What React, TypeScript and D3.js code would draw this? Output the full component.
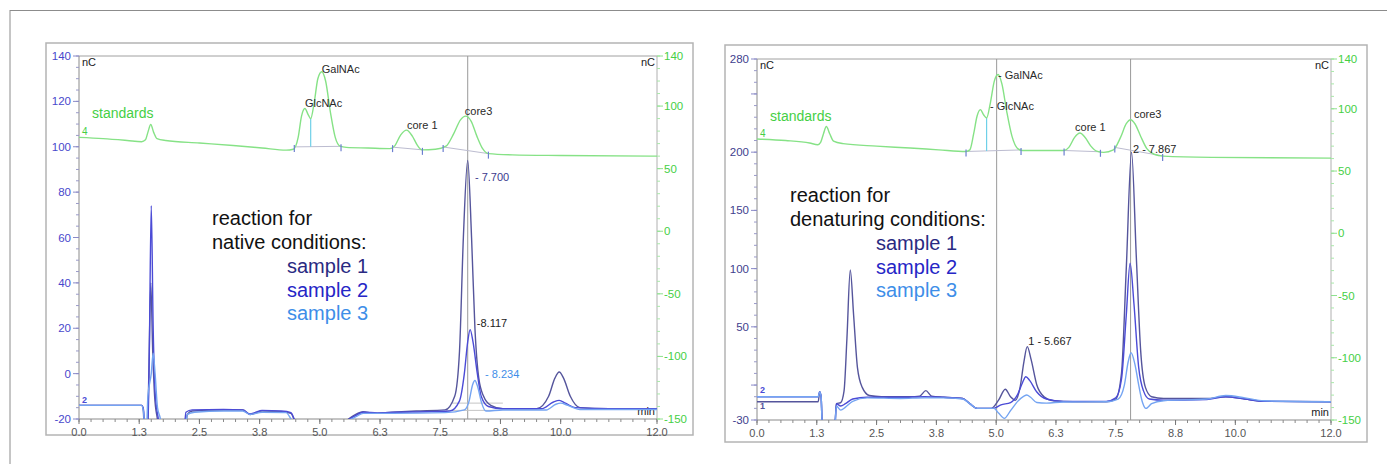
import React from "react";
import * as d3 from "d3";

// x axis (minutes), shared by both panels
const timeTicks = [0, 1.25, 2.5, 3.75, 5, 6.25, 7.5, 8.75, 10, 12];
const timeTickLabels = ["0.0", "1.3", "2.5", "3.8", "5.0", "6.3", "7.5", "8.8", "10.0", "12.0"];

// standards axis (right, green)
const stdTicks = [140, 100, 50, 0, -50, -100, -150];

// ---- native conditions (left panel) ----
const nativeLeftTicks = [140, 120, 100, 80, 60, 40, 20, 0, -20];

const nativeSample1 = [
  [0, -14], [1.3, -14], [1.33, -15], [1.36, -25], [1.42, -25], [1.45, 0], [1.49, 40], [1.53, 10], [1.57, -10],
  [1.62, -19], [1.7, -25], [2.2, -25], [2.25, -18], [2.35, -16.5], [3.0, -16], [3.4, -16], [3.55, -18], [3.65, -17.5],
  [3.8, -16.5], [4.2, -16.8], [4.4, -17.5], [4.5, -21], [5.5, -21], [5.7, -18.5], [5.9, -16.8], [6.1, -17.5],
  [6.5, -17], [7.0, -16.5], [7.6, -16], [7.8, -10], [7.9, 10], [7.98, 60], [8.07, 94], [8.15, 60], [8.22, 20],
  [8.3, -2], [8.4, -10], [8.55, -14], [8.8, -15.5], [9.5, -15.5], [9.75, -10], [9.88, -2], [9.97, 0.7], [10.06, -2],
  [10.2, -10], [10.4, -15], [11, -15.5], [12, -15.5],
];
const nativeSample2 = [
  [0, -14], [1.3, -14], [1.34, -16], [1.37, -25], [1.43, -25], [1.46, 10], [1.5, 74], [1.54, 20], [1.58, -8],
  [1.64, -19], [1.72, -25], [2.18, -25], [2.22, -17], [2.35, -16], [3.0, -15.8], [3.4, -16], [3.55, -17.8],
  [3.65, -17.2], [3.8, -16.2], [4.2, -16.5], [4.4, -17.2], [4.5, -21], [5.5, -21], [5.7, -19], [5.9, -17],
  [6.2, -17.3], [6.6, -17], [7.2, -16.8], [7.7, -16.5], [7.9, -12], [8.0, 0], [8.07, 14], [8.12, 19.4], [8.18, 14],
  [8.27, 0], [8.35, -10], [8.5, -14.5], [8.8, -15.5], [9.6, -15.5], [9.85, -12.5], [9.97, -11.8], [10.1, -13],
  [10.3, -15], [11, -15.5], [12, -15.5],
];
const nativeSample3 = [
  [0, -14], [1.3, -14], [1.34, -17], [1.37, -25], [1.4, -25], [1.43, -10], [1.5, 0], [1.54, 9], [1.58, 0],
  [1.63, -15], [1.68, -19], [1.75, -25], [2.2, -25], [2.25, -18], [2.4, -17], [3.0, -16.5], [3.4, -16.5],
  [3.55, -18], [3.8, -17], [4.3, -17.2], [4.45, -21], [5.5, -21], [5.75, -19], [5.9, -17.5], [6.5, -17.5],
  [7.6, -17.2], [8.0, -16], [8.1, -12], [8.17, -5], [8.22, -3], [8.28, -6], [8.36, -13], [8.45, -16.5], [8.8, -16],
  [9.7, -16], [9.9, -13.5], [10.0, -13], [10.15, -14], [10.4, -15.8], [12, -15.8],
];
const nativeStandards = [
  [0, 75], [0.5, 74], [1.0, 72.5], [1.3, 71.5], [1.38, 73], [1.43, 79], [1.49, 85.3], [1.55, 79], [1.62, 74],
  [1.8, 72.5], [2.5, 70.5], [3.2, 68.5], [3.8, 66.5], [4.3, 64.8], [4.45, 65.5], [4.55, 75], [4.62, 92], [4.69, 98],
  [4.76, 93], [4.81, 90], [4.88, 102], [4.96, 122], [5.04, 127.4], [5.12, 120], [5.22, 95], [5.32, 75], [5.42, 68],
  [5.55, 67], [6.0, 66.5], [6.45, 66], [6.55, 68], [6.68, 77], [6.8, 80.8], [6.92, 76], [7.02, 69], [7.12, 65],
  [7.4, 65.5], [7.62, 68], [7.78, 78], [7.92, 89], [8.03, 92], [8.14, 88], [8.26, 76], [8.38, 66], [8.5, 62],
  [9, 61], [10, 60.5], [12, 60],
];
const nativeMarkers = [4.47, 5.44, 6.51, 7.13, 7.56, 8.5];
const nativeBaselines = [[4.47, 5.44], [6.51, 7.13], [7.56, 8.5]];
const nativeDrop = [4.81];
const nativeCursor = [8.07];
const nativeStdLabels = [
  { t: 4.69, v: 102.7, text: "GlcNAc" },
  { t: 5.04, v: 129.6, text: "GalNAc" },
  { t: 6.81, v: 84.9, text: "core 1" },
  { t: 8.01, v: 96, text: "core3" },
];
const nativePeakLabels = [
  { t: 8.22, v: 86.8, text: "- 7.700", s: 0 },
  { t: 8.26, v: 22.2, text: "-8.117", s: -1 },
  { t: 8.43, v: -0.2, text: "- 8.234", s: 2 },
];
const nativeSampleBaselines = [[7.72, 8.8, -13], [7.62, 8.7, -16.2]];

// ---- denaturing conditions (right panel) ----
const denatLeftTicks = [280, 250, 200, 150, 100, 50, 0, -30];
const denatLeftLabels = ["280", "", "200", "150", "100", "50", "", "-30"];

const denatSample1 = [
  [0, -14.3], [1.28, -14.3], [1.31, -6], [1.34, -10], [1.37, -40], [1.62, -40], [1.66, -16], [1.75, -15],
  [1.82, -5], [1.88, 40], [1.95, 98.8], [2.02, 60], [2.1, 15], [2.2, -2], [2.35, -9], [2.6, -10], [3.2, -10],
  [3.4, -9.5], [3.53, -4.8], [3.65, -9.5], [3.9, -10.5], [4.3, -11.5], [4.45, -16], [4.6, -20], [4.9, -20],
  [5.05, -13], [5.19, -3.6], [5.3, -10], [5.4, -13], [5.5, -2], [5.58, 20], [5.65, 33], [5.73, 22], [5.85, 0],
  [6.0, -10], [6.2, -13.5], [6.6, -14.3], [7.3, -14.3], [7.5, -12], [7.62, 10], [7.72, 100], [7.83, 200],
  [7.93, 110], [8.02, 30], [8.12, -2], [8.25, -10], [8.5, -11.5], [9.4, -11.5], [9.8, -10], [10.2, -12],
  [10.6, -14], [12, -14.3],
];
const denatSample2 = [
  [0, -10], [1.28, -10], [1.31, -5.7], [1.34, -10], [1.37, -40], [1.62, -40], [1.66, -16], [1.75, -18],
  [1.85, -16], [2.0, -12], [2.3, -10.5], [3.0, -10.5], [3.5, -10], [3.9, -10.5], [4.3, -11.5], [4.45, -16],
  [4.6, -20], [4.95, -20], [5.1, -17], [5.3, -15], [5.45, -8], [5.55, 2], [5.62, 7.2], [5.7, 4], [5.85, -6],
  [6.05, -12], [6.4, -14], [7.3, -14], [7.5, -11], [7.62, 5], [7.72, 60], [7.8, 104.7], [7.88, 70], [7.98, 15],
  [8.08, -5], [8.2, -12], [8.5, -13], [9.4, -12.5], [9.8, -10], [10.2, -12], [10.6, -14], [12, -14.3],
];
const denatSample3 = [
  [0, -10], [1.28, -10], [1.31, -6], [1.34, -10], [1.37, -40], [1.62, -40], [1.66, -18], [1.75, -21.5],
  [1.85, -19], [2.0, -14], [2.3, -11], [3.0, -11.5], [3.5, -11], [3.9, -11], [4.3, -12], [4.45, -16], [4.6, -20],
  [4.95, -20], [5.05, -24], [5.17, -28.6], [5.3, -22], [5.45, -14], [5.58, -9.5], [5.64, -8.5], [5.72, -10.5],
  [5.85, -15], [6.05, -15.5], [6.4, -14.5], [7.3, -14.3], [7.55, -12], [7.68, 0], [7.76, 20], [7.82, 27.8],
  [7.9, 18], [7.98, 0], [8.06, -15], [8.13, -20], [8.25, -16], [8.5, -13.5], [9.4, -12], [9.8, -9], [10.2, -11],
  [10.6, -13.5], [12, -14.3],
];
const denatStandards = [
  [0, 75.7], [0.6, 74.5], [1.1, 72.5], [1.27, 71.1], [1.33, 73], [1.39, 80], [1.45, 85.8], [1.52, 80], [1.6, 74],
  [1.8, 72], [2.5, 70], [3.2, 68.5], [3.8, 67], [4.37, 65.7], [4.45, 67], [4.53, 80], [4.6, 94], [4.67, 99.3],
  [4.74, 95], [4.8, 92.6], [4.88, 105], [4.96, 122], [5.04, 127.5], [5.12, 120], [5.22, 98], [5.33, 78],
  [5.45, 68], [5.55, 66.5], [6.0, 66.5], [6.42, 66.5], [6.52, 69], [6.64, 77], [6.75, 80.5], [6.86, 77],
  [6.98, 70], [7.1, 66], [7.25, 65], [7.45, 67], [7.6, 77], [7.72, 88], [7.81, 91.2], [7.9, 88], [8.02, 78],
  [8.15, 68], [8.3, 63.5], [8.5, 62], [9.5, 61], [12, 60.4],
];
const denatMarkers = [4.37, 5.52, 6.42, 7.18, 7.48, 8.48];
const denatBaselines = [[4.37, 5.52], [6.42, 7.18], [7.48, 8.48]];
const denatDrop = [4.8];
const denatCursor = [5.01, 7.81];
const denatStdLabels = [
  { t: 4.87, v: 102.2, text: "- GlcNAc" },
  { t: 5.04, v: 127.1, text: "- GalNAc" },
  { t: 6.65, v: 85.1, text: "core 1" },
  { t: 7.88, v: 95.8, text: "core3" },
];
const denatPeakLabels = [
  { t: 7.86, v: 202.7, text: "2 - 7.867", s: -1 },
  { t: 5.67, v: 37.3, text: "1 - 5.667", s: -1 },
];

const traceColors = ["#55559c", "#4b4bd6", "#74a4f2"];
const sampleTextColors = ["#2a2a82", "#2626c6", "#3e8ee8"];
const GREEN = "#86e286";
const GREEN_TEXT = "#45cf45";
const FONT = "Liberation Sans, Arial, sans-serif";

function Panel({ cfg }) {
  const { box, x0, x1, top, bottom, leftDomain, leftTicks, leftLabels, leftMinor, leftColor, samples,
    standards, markers, baselines, drops, cursors, stdLabels, peakLabels, legend, sampleBaselines, id, traceIds } = cfg;

  const x = d3.scaleLinear().domain([0, 12]).range([x0, x1]);
  const yL = d3.scaleLinear().domain(leftDomain).range([bottom, top]);
  const yR = d3.scaleLinear().domain([-150, 140]).range([bottom, top]);

  const lineL = d3.line().x(d => x(d[0])).y(d => yL(d[1])).curve(d3.curveMonotoneX);
  const lineR = d3.line().x(d => x(d[0])).y(d => yR(d[1])).curve(d3.curveMonotoneX);
  const stdAt = (t) => {
    const i = d3.bisector(d => d[0]).left(standards, t);
    const a = standards[Math.max(0, i - 1)], b = standards[Math.min(standards.length - 1, i)];
    if (a[0] === b[0]) return a[1];
    return a[1] + (b[1] - a[1]) * (t - a[0]) / (b[0] - a[0]);
  };
  const baseAt = (t) => {
    const b = baselines.find(b => t >= b[0] && t <= b[1]) || baselines[0];
    return stdAt(b[0]) + (stdAt(b[1]) - stdAt(b[0])) * (t - b[0]) / (b[1] - b[0]);
  };

  const minorX = d3.range(0, 12.001, 0.25);
  const minorL = d3.range(leftDomain[0], leftDomain[1] + 0.001, leftMinor);
  const minorR = d3.range(-150, 140.001, 10);
  const clipId = `clip-${id}`;

  return (
    <g fontFamily={FONT}>
      <rect x={box.x} y={box.y} width={box.w} height={box.h} fill="white" stroke="#b4b4b4" strokeWidth={1.5} />
      <defs>
        <clipPath id={clipId}>
          <rect x={x0} y={top} width={x1 - x0} height={bottom - top} />
        </clipPath>
      </defs>

      {/* plot frame */}
      <line x1={x0} x2={x1} y1={top} y2={top} stroke="#a0a0a0" strokeWidth={1} />
      <line x1={x1} x2={x1} y1={top} y2={bottom} stroke="#b0b0b0" strokeWidth={1} />
      <line x1={x0} x2={x0} y1={top} y2={bottom} stroke="#8a8a8a" strokeWidth={1} />
      <line x1={x0} x2={x1} y1={bottom} y2={bottom} stroke="#8a8a8a" strokeWidth={1} />

      {/* cursor lines */}
      {cursors.map((t, i) => (
        <line key={i} x1={x(t)} x2={x(t)} y1={top} y2={bottom} stroke="#9a9a9a" strokeWidth={1} />
      ))}

      {/* x ticks */}
      {minorX.map((t, i) => (
        <line key={i} x1={x(t)} x2={x(t)} y1={bottom} y2={bottom + 3} stroke="#8a8a8a" strokeWidth={1} />
      ))}
      {timeTicks.map((t, i) => (
        <g key={i}>
          <line x1={x(t)} x2={x(t)} y1={bottom} y2={bottom + 5} stroke="#777" strokeWidth={1} />
          <text x={x(t)} y={bottom + 17} textAnchor="middle" fontSize={11} fill="#555">{timeTickLabels[i]}</text>
        </g>
      ))}

      {/* left axis */}
      {minorL.map((v, i) => (
        <line key={i} x1={x0 - 3} x2={x0} y1={yL(v)} y2={yL(v)} stroke="#9a9ac8" strokeWidth={1} />
      ))}
      {leftTicks.map((v, i) => (
        <g key={i}>
          <line x1={x0 - 6} x2={x0} y1={yL(v)} y2={yL(v)} stroke="#8a8ac8" strokeWidth={1} />
          <text x={x0 - 8} y={yL(v)} dy="0.35em" textAnchor="end" fontSize={11.5} fill={leftColor}>{leftLabels[i]}</text>
        </g>
      ))}

      {/* right axis (standards) */}
      {minorR.map((v, i) => (
        <line key={i} x1={x1} x2={x1 + 3} y1={yR(v)} y2={yR(v)} stroke="#a8e8a8" strokeWidth={1} />
      ))}
      {stdTicks.map((v, i) => (
        <g key={i}>
          <line x1={x1} x2={x1 + 6} y1={yR(v)} y2={yR(v)} stroke="#8ee08e" strokeWidth={1} />
          <text x={x1 + 7} y={yR(v)} dy="0.35em" fontSize={11.5} fill={GREEN_TEXT}>{v}</text>
        </g>
      ))}

      <text x={x0 + 3} y={top + 10} fontSize={11} fill="#222">nC</text>
      <text x={x1 - 2} y={top + 10} textAnchor="end" fontSize={11} fill="#222">nC</text>
      <text x={x1 - 2} y={bottom - 4} textAnchor="end" fontSize={11} fill="#222">min</text>

      <g clipPath={`url(#${clipId})`}>
        {/* integration baselines + markers on the standards trace */}
        {baselines.map((b, i) => (
          <line key={i} x1={x(b[0])} x2={x(b[1])} y1={yR(stdAt(b[0]))} y2={yR(stdAt(b[1]))} stroke="#bcbcd0" strokeWidth={1} />
        ))}
        {drops.map((t, i) => (
          <line key={i} x1={x(t)} x2={x(t)} y1={yR(stdAt(t))} y2={yR(baseAt(t))} stroke="#6fd0e8" strokeWidth={1.2} />
        ))}
        {sampleBaselines.map((b, i) => (
          <line key={i} x1={x(b[0])} x2={x(b[1])} y1={yL(b[2])} y2={yL(b[2])} stroke="#c4c4c4" strokeWidth={1} />
        ))}
        <path d={lineR(standards)} fill="none" stroke={GREEN} strokeWidth={1.4} />
        {markers.map((t, i) => (
          <line key={i} x1={x(t)} x2={x(t)} y1={yR(stdAt(t)) - 2} y2={yR(stdAt(t)) + 5} stroke="#6c7fd0" strokeWidth={1.2} />
        ))}

        {/* sample traces */}
        {samples.map((s, i) => (
          <path key={i} d={lineL(s)} fill="none" stroke={traceColors[i]} strokeWidth={1.4} />
        ))}
      </g>

      {/* trace ids */}
      <text x={x0 + 3} y={yR(standards[0][1]) - 2} fontSize={10} fill={GREEN_TEXT}>4</text>
      {traceIds.map((tid, i) => (
        <text key={i} x={x0 + 3} y={yL(samples[tid.s][0][1]) + tid.dy} fontSize={9} fontWeight="bold" fill={traceColors[tid.s]}>{tid.text}</text>
      ))}

      <text x={x0 + 13} y={top + 57} dy="0.35em" fontSize={14} fill={GREEN_TEXT}>standards</text>

      {stdLabels.map((l, i) => (
        <text key={i} x={x(l.t)} y={yR(l.v)} dy="0.35em" fontSize={11} fill="#2a2a2a">{l.text}</text>
      ))}
      {peakLabels.map((l, i) => (
        <text key={i} x={x(l.t)} y={yL(l.v)} dy="0.35em" fontSize={11}
          fill={l.s < 0 ? "#222" : l.s === 0 ? "#3a3a8e" : "#3e8ee8"}>{l.text}</text>
      ))}

      {/* legend */}
      <text x={legend.x} y={legend.y} fontSize={20} fill="#111">reaction for</text>
      <text x={legend.x} y={legend.y + 24} fontSize={20} fill="#111">{legend.line2}</text>
      {["sample 1", "sample 2", "sample 3"].map((s, i) => (
        <text key={i} x={legend.sx} y={legend.y + 48 + i * 23.5} fontSize={20} fill={sampleTextColors[i]}>{s}</text>
      ))}
    </g>
  );
}

const nativeCfg = {
  id: "native",
  box: { x: 46, y: 43, w: 647, h: 392 },
  x0: 79, x1: 657, top: 56, bottom: 419,
  leftDomain: [-20, 140], leftTicks: nativeLeftTicks, leftLabels: nativeLeftTicks.map(String), leftMinor: 5,
  leftColor: "#4848cc",
  samples: [nativeSample1, nativeSample2, nativeSample3],
  standards: nativeStandards,
  markers: nativeMarkers, baselines: nativeBaselines, drops: nativeDrop, cursors: nativeCursor,
  stdLabels: nativeStdLabels, peakLabels: nativePeakLabels,
  sampleBaselines: nativeSampleBaselines,
  traceIds: [{ text: "2", s: 1, dy: -2 }],
  legend: { x: 212, y: 225, sx: 287, line2: "native conditions:" },
};

const denatCfg = {
  id: "denat",
  box: { x: 725, y: 45, w: 642, h: 397 },
  x0: 757, x1: 1331, top: 59, bottom: 420,
  leftDomain: [-30, 280], leftTicks: denatLeftTicks, leftLabels: denatLeftLabels, leftMinor: 10,
  leftColor: "#3e3e8e",
  samples: [denatSample1, denatSample2, denatSample3],
  standards: denatStandards,
  markers: denatMarkers, baselines: denatBaselines, drops: denatDrop, cursors: denatCursor,
  stdLabels: denatStdLabels, peakLabels: denatPeakLabels,
  sampleBaselines: [],
  traceIds: [{ text: "2", s: 1, dy: -4 }, { text: "1", s: 0, dy: 7 }],
  legend: { x: 790, y: 202, sx: 876, line2: "denaturing conditions:" },
};

export default function App() {
  return (
    <svg width={1387} height={464} style={{ position: "absolute", left: 0, top: 0, background: "white" }}>
      <rect x={0} y={0} width={1387} height={464} fill="white" />
      <line x1={10} x2={1387} y1={10.5} y2={10.5} stroke="#8c8c8c" strokeWidth={1} />
      <line x1={10} x2={10} y1={10} y2={464} stroke="#8c8c8c" strokeWidth={1} />
      <Panel cfg={nativeCfg} />
      <Panel cfg={denatCfg} />
    </svg>
  );
}
